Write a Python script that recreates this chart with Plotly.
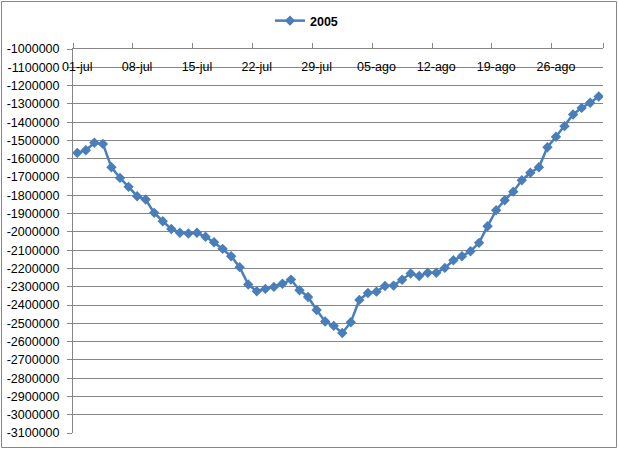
import plotly.graph_objects as go
import pandas as pd

series_name = "2005"
start_date = "2005-07-01"
values = [
    -1568000, -1554000, -1513000, -1519000, -1647000, -1705000, -1754000, -1805000, -1823000, -1896000,
    -1942000, -1984000, -2005000, -2009000, -2005000, -2027000, -2057000, -2093000, -2133000, -2193000,
    -2288000, -2325000, -2312000, -2301000, -2284000, -2261000, -2319000, -2356000, -2427000, -2490000,
    -2514000, -2553000, -2494000, -2372000, -2334000, -2327000, -2296000, -2294000, -2262000, -2228000,
    -2241000, -2224000, -2224000, -2197000, -2155000, -2133000, -2106000, -2060000, -1969000, -1882000,
    -1827000, -1780000, -1718000, -1677000, -1647000, -1537000, -1480000, -1422000, -1358000, -1322000,
    -1294000, -1260000,
]
x_tick_labels = ["01-jul", "08-jul", "15-jul", "22-jul", "29-jul",
                 "05-ago", "12-ago", "19-ago", "26-ago"]
y_tick_values = [-1000000 - 100000 * i for i in range(22)]
y_tick_labels = [str(v) for v in y_tick_values]

dates = pd.date_range(start_date, periods=len(values), freq="D")
half = pd.Timedelta(hours=12)
x_range = [dates[0] - half, dates[-1] + half]
label_pos = [dates[0] + pd.Timedelta(days=7 * i) for i in range(len(x_tick_labels))]
tick_pos = [d - half for d in label_pos] + [x_range[1]]

GRID = "#868686"
BLUE = "#4a7ebb"
FONT = "Liberation Sans"

fig = go.Figure()
fig.add_trace(go.Scatter(
    x=dates, y=values, mode="lines+markers", name=series_name,
    line=dict(color=BLUE, width=2.5),
    marker=dict(symbol="diamond", size=8, color=BLUE, line=dict(width=0)),
))
# invisible companion trace so the label axis is drawn
fig.add_trace(go.Scatter(
    x=dates, y=values, xaxis="x2", mode="lines", line=dict(width=0, color="rgba(0,0,0,0)"),
    showlegend=False, hoverinfo="skip",
))

W, H = 619, 450
ml, mr, mt, mb = 73, 16, 49, 17
pw, ph = W - ml - mr, H - mt - mb

fig.update_layout(
    width=W, height=H,
    margin=dict(l=ml, r=mr, t=mt, b=mb, pad=0),
    paper_bgcolor="white", plot_bgcolor="white",
    font=dict(family=FONT, size=12.5, color="black"),
    showlegend=True,
    legend=dict(
        orientation="h", xref="container", yref="container",
        x=0.5 - 3 / W, xanchor="center", y=1 - 21 / H, yanchor="middle",
        font=dict(size=12.5, weight="bold", color="black"),
        itemwidth=30, bgcolor="rgba(0,0,0,0)",
    ),
    xaxis=dict(
        type="date", range=x_range, side="top", automargin=False,
        showgrid=False, zeroline=False,
        showline=True, linecolor=GRID, linewidth=1,
        ticks="outside", ticklen=5, tickcolor=GRID, tickwidth=1,
        tickvals=tick_pos, showticklabels=False,
    ),
    xaxis2=dict(
        type="date", range=x_range, overlaying="x", anchor="free", position=1,
        side="bottom", automargin=False,
        showgrid=False, zeroline=False, showline=False, ticks="",
        tickvals=label_pos, ticktext=x_tick_labels,
        ticklabeloverflow="allow", ticklabelstandoff=8,
        tickfont=dict(size=12.5, color="black"),
    ),
    yaxis=dict(
        range=[y_tick_values[-1], y_tick_values[0]], automargin=False,
        tickvals=y_tick_values, ticktext=y_tick_labels,
        showgrid=True, gridcolor=GRID, gridwidth=1, zeroline=False,
        showline=True, linecolor=GRID, linewidth=1,
        ticks="outside", ticklen=5, tickcolor=GRID, tickwidth=1,
        ticklabelstandoff=5, ticklabeloverflow="allow",
        tickfont=dict(size=12.5, color="black"),
    ),
    shapes=[dict(
        type="rect", xref="paper", yref="paper",
        x0=(1.5 - ml) / pw, x1=(616.5 - ml) / pw,
        y0=(H - mb - 447.5) / ph, y1=(H - mb - 1.5) / ph,
        line=dict(color=GRID, width=1), fillcolor="rgba(0,0,0,0)", layer="below",
    )],
)

fig.write_html(
    "out.html",
    config={"displayModeBar": False},
    post_script="document.body.style.margin='0';document.body.style.overflow='hidden';",
)
